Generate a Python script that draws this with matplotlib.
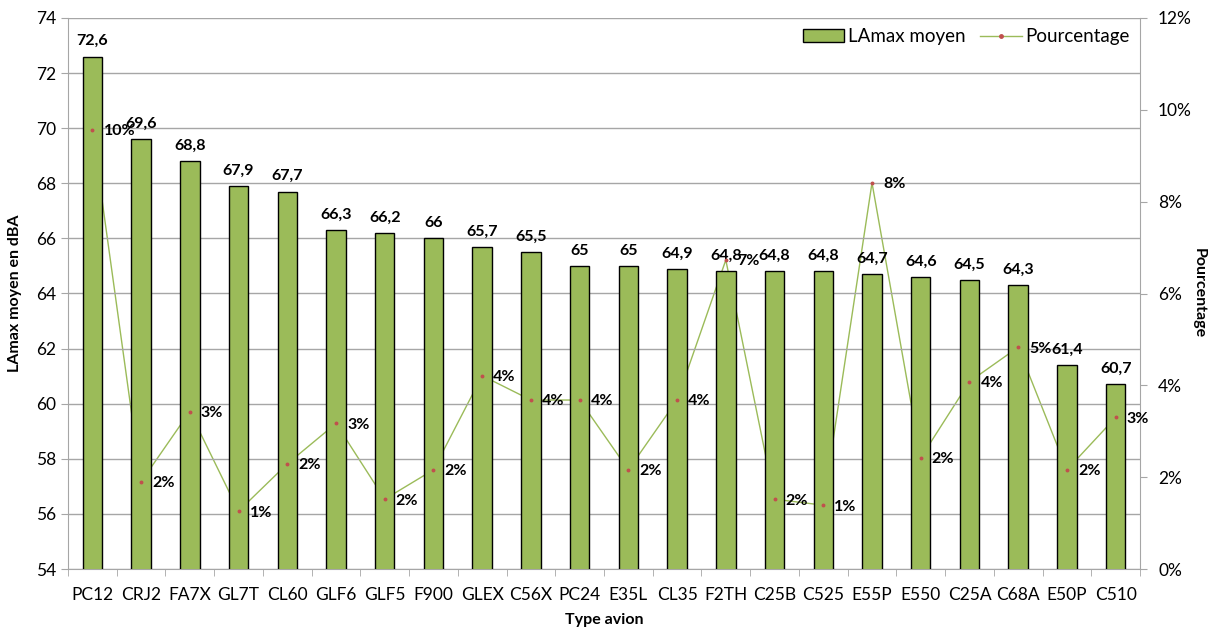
import matplotlib
matplotlib.use("Agg")
import matplotlib.pyplot as plt
from matplotlib.lines import Line2D
from matplotlib.patches import Patch
import numpy as np

plt.rcParams['font.family'] = ['Lato', 'DejaVu Sans']

categories = ["PC12", "CRJ2", "FA7X", "GL7T", "CL60", "GLF6", "GLF5", "F900", "GLEX", "C56X", "PC24",
              "E35L", "CL35", "F2TH", "C25B", "C525", "E55P", "E550", "C25A", "C68A", "E50P", "C510"]
lamax = [72.6, 69.6, 68.8, 67.9, 67.7, 66.3, 66.2, 66.0, 65.7, 65.5, 65.0,
         65.0, 64.9, 64.8, 64.8, 64.8, 64.7, 64.6, 64.5, 64.3, 61.4, 60.7]
pourcentage = [9.56, 1.90, 3.43, 1.26, 2.29, 3.17, 1.52, 2.16, 4.21, 3.68, 3.68,
               2.16, 3.68, 6.73, 1.52, 1.39, 8.41, 2.42, 4.08, 4.83, 2.16, 3.30]

bar_color = "#9BBB59"
grid_color = "#A6A6A6"
marker_color = "#C0504D"

fig = plt.figure(figsize=(12.16, 6.3), dpi=100)
ax = fig.add_subplot(111)
fig.subplots_adjust(left=68/1216, right=1140/1216, top=1-18/630, bottom=1-569/630)

x = np.arange(len(categories))

# percentage line (drawn below bars)
ax2 = ax.twinx()
ax.set_zorder(ax2.get_zorder() + 1)
ax.patch.set_visible(False)
ax2.patch.set_facecolor("white")
ax2.plot(x, pourcentage, color=bar_color, lw=1.0, zorder=1)
ax2.set_ylim(0, 12)
ax2.set_yticks(np.arange(0, 13, 2))
ax2.set_yticklabels([f"{v}%" for v in range(0, 13, 2)])

# bars
ax.bar(x, lamax, width=0.4, color=bar_color, edgecolor="black", linewidth=1.0, zorder=3)
ax.set_ylim(54, 74)
ax.set_xlim(-0.5, len(categories) - 0.5)
ax.set_yticks(np.arange(54, 75, 2))
ax.yaxis.grid(True, color=grid_color, linewidth=1.0, zorder=0)
ax.set_axisbelow(True)
ax.set_xticks(x)
ax.set_xticklabels(categories)
ax.set_xticks(np.arange(-0.5, len(categories), 1), minor=True)
ax.tick_params(axis='x', which='major', length=0, pad=13, labelsize=12.5)
ax.tick_params(axis='x', which='minor', length=5, color=grid_color, direction='out')
ax.tick_params(axis='y', length=5, color=grid_color, labelsize=12.5)
ax2.tick_params(axis='y', length=5, color=grid_color, labelsize=12.5, pad=8)

for a in (ax, ax2):
    for s in a.spines.values():
        s.set_visible(False)
ax.spines['left'].set_visible(True)
ax.spines['left'].set_color(grid_color)
ax.spines['bottom'].set_visible(True)
ax.spines['bottom'].set_color(grid_color)
ax2.spines['right'].set_visible(True)
ax2.spines['right'].set_color(grid_color)

for xi, v in zip(x, lamax):
    lbl = f"{v:g}".replace(".", ",")
    ax.annotate(lbl, (xi, v), xytext=(0, 6), textcoords="offset points",
                ha="center", va="bottom", fontsize=11.5, fontweight="bold", zorder=5)

ax.set_ylabel("LAmax moyen en dBA", fontsize=11.5, fontweight="bold", labelpad=10)
ax.set_xlabel("Type avion", fontsize=11.5, fontweight="bold", labelpad=7)
ax2.set_ylabel("Pourcentage", fontsize=11.5, fontweight="bold", rotation=270, labelpad=10)

# markers and percentage labels on top
ax3 = ax.twinx()
ax3.set_zorder(ax.get_zorder() + 1)
ax3.patch.set_visible(False)
ax3.set_ylim(0, 12)
ax3.set_xlim(ax.get_xlim())
ax3.axis('off')
ax3.plot(x, pourcentage, linestyle="none", marker="o", markersize=1.8,
         color=marker_color, zorder=6)
for xi, p in zip(x, pourcentage):
    ax3.annotate(f"{round(p):d}%", (xi, p), xytext=(8, -1), textcoords="offset points",
                 ha="left", va="center", fontsize=11.5, fontweight="bold", zorder=7)

handles = [Patch(facecolor=bar_color, edgecolor="black", linewidth=1.0),
           Line2D([0], [0], color=bar_color, lw=1.0, marker="o", markersize=2.5,
                  markerfacecolor=marker_color, markeredgecolor=marker_color)]
leg = ax3.legend(handles, ["LAmax moyen", "Pourcentage"], loc="upper right", ncol=2,
                 frameon=True, fontsize=13.5, handlelength=2.2, handletextpad=0.2,
                 columnspacing=0.8, borderaxespad=0.15)
leg.get_frame().set_edgecolor("none")
leg.get_frame().set_facecolor("white")
leg.get_frame().set_alpha(1)

fig.savefig("out.png", dpi=100)
